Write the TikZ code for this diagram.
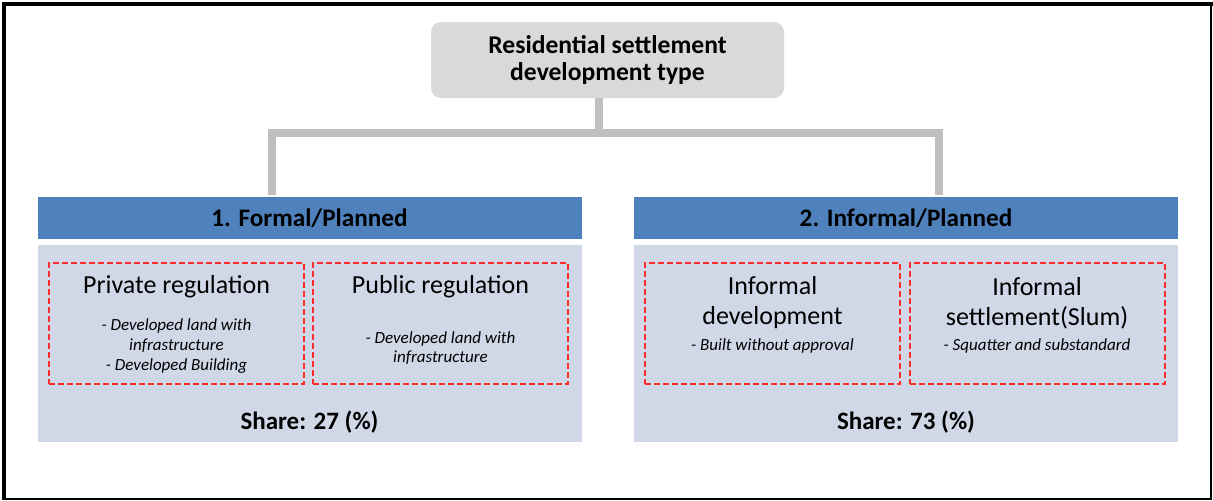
\documentclass[tikz,border=0pt]{standalone}
\usepackage{fontspec}
\setmainfont{Carlito}

\definecolor{hdrblue}{HTML}{4F81BD}
\definecolor{panelblue}{HTML}{D0D8E8}
\definecolor{topgray}{HTML}{D9D9D9}
\definecolor{linkgray}{HTML}{BFBFBF}
\definecolor{boxred}{HTML}{FF2A2A}

\begin{document}
\begin{tikzpicture}[x=0.5pt,y=-0.5pt,
  header/.style={fill=hdrblue, minimum width=272pt, minimum height=21pt, inner sep=0pt,
    font=\bfseries\fontsize{12.6}{14}\selectfont},
  panel/.style={fill=panelblue, minimum width=272pt, minimum height=98.5pt, inner sep=0pt},
  subbox/.style={draw=boxred, dash pattern=on 3pt off 1.5pt, line width=1pt,
    minimum width=127.5pt, minimum height=60.5pt, inner sep=0pt},
  subtitle/.style={align=center, font=\fontsize{13}{15}\selectfont},
  items/.style={align=center, font=\itshape\fontsize{8.5}{9.9}\selectfont},
  share/.style={font=\bfseries\fontsize{12.5}{14}\selectfont},
  link/.style={draw=linkgray, line width=4pt}]
\useasboundingbox (0,0) rectangle (1213,500);

% outer frame
\draw[line width=2pt] (4,500) -- (4,3.5) -- (1213,3.5);
\draw[line width=1pt] (1211,3.5) -- (1211,499) -- (4,499);

% top of the tree
\node[fill=topgray, rounded corners=5pt, minimum width=176.5pt, minimum height=38pt,
  inner sep=0pt, align=center, font=\bfseries\fontsize{12.8}{13.5}\selectfont]
  (title) at (607.5,60) {Residential settlement\\development type};

% the two branches
\node[header] (hdr1) at (309.5,218) {1. Formal/Planned};
\node[panel]  (body1) at (309.5,343.5) {};
\node[header] (hdr2) at (906,218) {2. Informal/Planned};
\node[panel]  (body2) at (906,343.5) {};

% formal branch
\node[subbox] (box11) at (176.5,323.5) {};
\node[subbox] (box12) at (440.5,323.5) {};
\node[subtitle] (priv) at (176.5,287) {Private regulation};
\node[items] (privitems) at (176.5,346) {- Developed land with\\infrastructure\\- Developed Building};
\node[subtitle] (pub) at (440.5,287) {Public regulation};
\node[items] (pubitems) at (440.5,348) {- Developed land with\\infrastructure};
\node[share] (share1) at (309.5,422) {Share: 27 (\%)};

% informal branch
\node[subbox] (box21) at (772.5,323.5) {};
\node[subbox] (box22) at (1037,323.5) {};
\node[subtitle] (infdev) at (772.5,303) {Informal\\development};
\node[items] (infdevitems) at (772.5,346) {- Built without approval};
\node[subtitle] (slum) at (1037,303) {Informal\\settlement(Slum)};
\node[items] (slumitems) at (1037,346) {- Squatter and substandard};
\node[share] (share2) at (906,422) {Share: 73 (\%)};

% connectors
\coordinate (split) at (599,133);
\coordinate (leg1) at (272,195);
\coordinate (leg2) at (939,195);
\draw[link] (title.south -| split) -- (split);
\draw[link] (leg1) |- (split) -| (leg2);

\end{tikzpicture}
\end{document}
